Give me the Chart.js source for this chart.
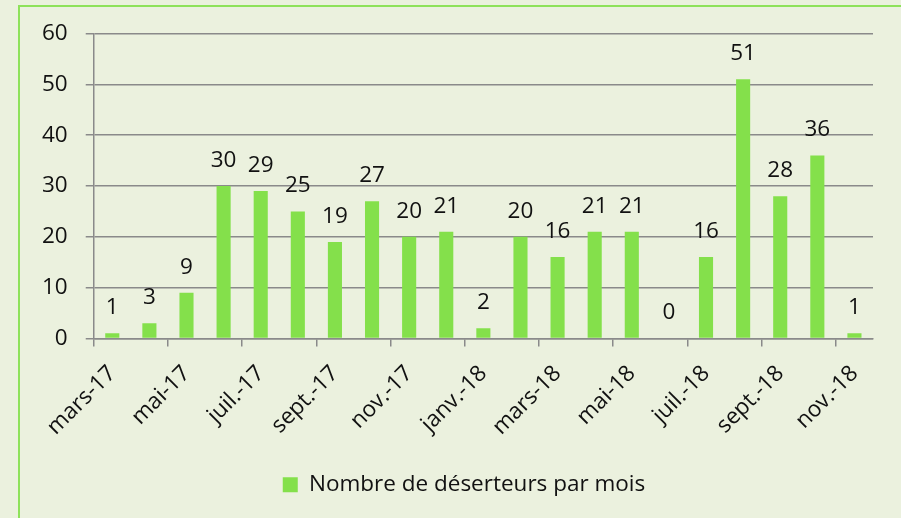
<!DOCTYPE html>
<html lang="fr">
<head>
    <meta charset="UTF-8">
    <title>Déserteurs par mois</title>
    <style>
        html, body { margin: 0; padding: 0; }
        body { width: 901px; height: 518px; overflow: hidden; background: #EBF1DE; position: relative; }
        #box {
            position: absolute; left: 18px; top: 5px; width: 900px; height: 520px;
            border-left: 2px solid #8EE25A; border-top: 2px solid #8EE25A;
        }
        #wrap { position: absolute; left: 20px; top: 2px; width: 894px; height: 510px; }
    </style>
</head>
<body>
    <div id="box"></div>
    <div id="wrap">
        <canvas id="myChart"></canvas>
    </div>

    <script src="https://cdn.jsdelivr.net/npm/chart.js"></script>
    <script>
        const months = ['mars-17', 'avr.-17', 'mai-17', 'juin-17', 'juil.-17', 'août-17', 'sept.-17',
            'oct.-17', 'nov.-17', 'déc.-17', 'janv.-18', 'févr.-18', 'mars-18', 'avr.-18', 'mai-18',
            'juin-18', 'juil.-18', 'août-18', 'sept.-18', 'oct.-18', 'nov.-18'];
        const deserteurs = [1, 3, 9, 30, 29, 25, 19, 27, 20, 21, 2, 20, 16, 21, 21, 0, 16, 51, 28, 36, 1];
        const seriesName = 'Nombre de déserteurs par mois';

        const font = { family: '"Open Sans", Lato, sans-serif', size: 22.5 };
        const gridGrey = '#8A8A8A';

        // value labels above each bar (Excel style)
        const barLabels = {
            id: 'barLabels',
            afterDatasetsDraw(chart) {
                const c = chart.ctx;
                const meta = chart.getDatasetMeta(0);
                c.save();
                c.font = font.size + 'px ' + font.family;
                c.fillStyle = '#111';
                c.textAlign = 'center';
                c.textBaseline = 'alphabetic';
                meta.data.forEach((bar, i) => {
                    c.fillText(deserteurs[i], bar.x, bar.y - 19);
                });
                c.restore();
            }
        };

        new Chart(document.getElementById('myChart'), {
            type: 'bar',
            data: {
                labels: months,
                datasets: [{
                    label: seriesName,
                    data: deserteurs,
                    backgroundColor: '#84E04B',
                    barPercentage: 0.38,
                    categoryPercentage: 1
                }]
            },
            options: {
                responsive: true,
                maintainAspectRatio: false,
                animation: false,
                layout: { padding: { left: 4, right: 10, top: 8, bottom: 6 } },
                plugins: {
                    tooltip: { enabled: false },
                    legend: {
                        position: 'bottom',
                        labels: { font: font, color: '#111', boxWidth: 15, boxHeight: 15, padding: 19 }
                    }
                },
                scales: {
                    x: {
                        offset: true,
                        grid: {
                            offset: true,
                            drawOnChartArea: false,
                            tickLength: 8,
                            lineWidth: 1.5,
                            color: ctx => ctx.index % 2 === 0 ? gridGrey : 'rgba(0,0,0,0)'
                        },
                        border: { color: gridGrey, width: 1.5 },
                        ticks: {
                            autoSkip: false,
                            minRotation: 45,
                            maxRotation: 45,
                            padding: 14,
                            font: font,
                            color: '#111',
                            callback: (v, i) => i % 2 === 0 ? months[i] : ''
                        }
                    },
                    y: {
                        min: 0,
                        max: 60,
                        grid: { color: gridGrey, lineWidth: 1.5, tickLength: 8 },
                        border: { color: gridGrey, width: 1.5 },
                        ticks: { stepSize: 10, padding: 18, font: font, color: '#111' }
                    },
                    // empty right-hand space so the plot ends where the original does
                    spacer: {
                        type: 'linear',
                        position: 'right',
                        grid: { display: false },
                        border: { display: false },
                        ticks: { display: false },
                        afterFit: s => { s.width = 31; }
                    }
                }
            },
            plugins: [barLabels]
        });
    </script>
</body>
</html>
